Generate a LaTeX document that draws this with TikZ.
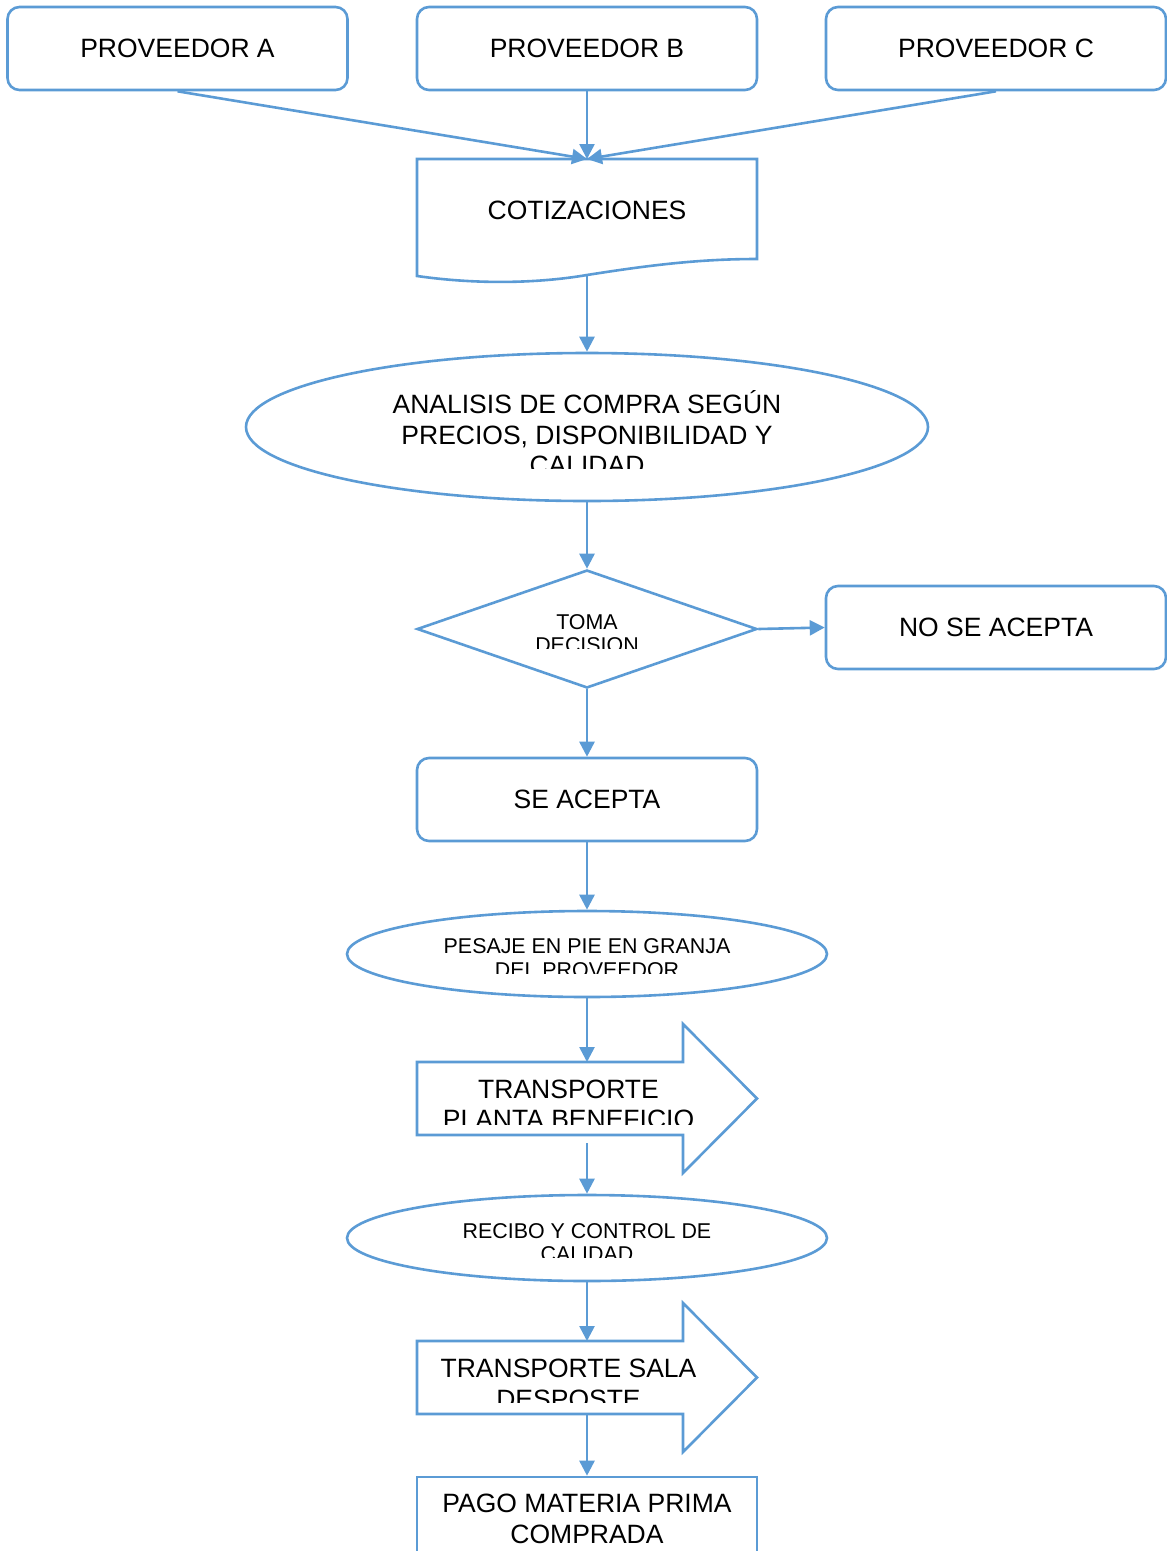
\documentclass[tikz,border=0pt]{standalone}
\usepackage{fontspec}
\setmainfont{Liberation Sans}
\usetikzlibrary{shapes.geometric,arrows.meta}
\definecolor{lineblue}{RGB}{91,155,213}
\begin{document}
\begin{tikzpicture}[x=1pt,y=-1pt,
  shp/.style={draw=lineblue,line width=2.6pt,inner sep=0pt,fill=white},
  rbox/.style={shp,rectangle,rounded corners=12pt,minimum width=340pt,minimum height=83pt},
  big/.style={font=\fontsize{26.5}{30.5}\selectfont,align=center,inner sep=0pt},
  small/.style={font=\fontsize{21.4}{23.5}\selectfont,align=center,inner sep=0pt},
  conn/.style={draw=lineblue,line width=2.6pt,-{Triangle[length=15pt,width=15pt]}}]
\useasboundingbox (0,0) rectangle (1167,1551);
\clip (0,0) rectangle (1167,1551);

% top suppliers
\node[rbox,big] (pa) at (177.5,48.5) {PROVEEDOR A};
\node[rbox,big] (pb) at (587,48.5) {PROVEEDOR B};
\node[rbox,big] (pc) at (996,48.5) {PROVEEDOR C};

% cotizaciones (document shape)
\draw[shp] (417,159) -- (757,159) -- (757,259)
  .. controls (700,259) and (650,265) .. (587,275)
  .. controls (540,283) and (480,285) .. (417,276) -- cycle;
\coordinate (cottop) at (587,159);
\coordinate (cotbot) at (587,275);
\node[big] (cottxt) at (587,210) {COTIZACIONES};

% analisis ellipse
\node[shp,ellipse,minimum width=682pt,minimum height=148pt] (ana) at (587,427) {};
\begin{scope}
\clip (300,380) rectangle (880,468);
\node[big] (anatxt) at (587,433) {ANALISIS DE COMPRA SEGÚN\\PRECIOS, DISPONIBILIDAD Y\\CALIDAD};
\end{scope}

% decision
\node[shp,diamond,minimum width=340pt,minimum height=118pt] (dec) at (587,629) {};
\begin{scope}
\clip (480,600) rectangle (700,648);
\node[small] (dectxt) at (587,633.5) {TOMA\\DECISION};
\end{scope}

\node[rbox,big] (no) at (996,627.5) {NO SE ACEPTA};
\node[rbox,big] (si) at (587,799.5) {SE ACEPTA};

% pesaje ellipse
\node[shp,ellipse,minimum width=480pt,minimum height=86pt] (pes) at (587,954) {};
\begin{scope}
\clip (400,925) rectangle (780,973);
\node[small] (pestxt) at (587,958) {PESAJE EN PIE EN GRANJA\\DEL PROVEEDOR};
\end{scope}

% transporte planta beneficio (block arrow)
\draw[shp] (417,1062) -- (683,1062) -- (683,1024) -- (757,1098.5) -- (683,1173)
  -- (683,1135) -- (417,1135) -- cycle;
\coordinate (t1in) at (587,1062);
\coordinate (t1out) at (587,1143);
\begin{scope}
\clip (420,1066) rectangle (740,1124);
\node[big] (t1txt) at (568.5,1104.5) {TRANSPORTE\\PLANTA BENEFICIO};
\end{scope}

% recibo ellipse
\node[shp,ellipse,minimum width=480pt,minimum height=86pt] (rec) at (587,1238) {};
\begin{scope}
\clip (400,1210) rectangle (780,1257);
\node[small] (rectxt) at (587,1242.5) {RECIBO Y CONTROL DE\\CALIDAD};
\end{scope}

% transporte sala desposte (block arrow)
\draw[shp] (417,1341) -- (683,1341) -- (683,1303) -- (757,1377.5) -- (683,1452)
  -- (683,1414) -- (417,1414) -- cycle;
\coordinate (t2in) at (587,1341);
\coordinate (t2out) at (587,1414);
\begin{scope}
\clip (420,1345) rectangle (740,1402);
\node[big] (t2txt) at (568.5,1384) {TRANSPORTE SALA\\DESPOSTE};
\end{scope}

% pago
\node[shp,rectangle,minimum width=340pt,minimum height=120pt] (pago) at (587,1537) {};
\node[big] (pagotxt) at (587,1519) {PAGO MATERIA PRIMA\\COMPRADA};

% connectors
\draw[conn] (pa.south) -- (cottop);
\draw[conn] (pb.south) -- (cottop);
\draw[conn] (pc.south) -- (cottop);
\draw[conn] (cotbot) -- (ana.north);
\draw[conn] (ana.south) -- (dec.north);
\draw[conn] (dec.east) -- (no.west);
\draw[conn] (dec.south) -- (si.north);
\draw[conn] (si.south) -- (pes.north);
\draw[conn] (pes.south) -- (t1in);
\draw[conn] (t1out) -- (rec.north);
\draw[conn] (rec.south) -- (t2in);
\draw[conn] (t2out) -- (pago.north);
\end{tikzpicture}
\end{document}
